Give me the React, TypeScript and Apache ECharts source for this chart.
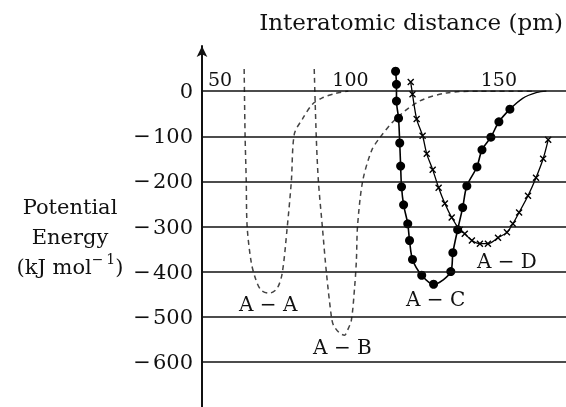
import React, { useEffect, useRef } from "react";
import * as echarts from "echarts";

const xTicks = [50, 100, 150];
const yTicks = [0, -100, -200, -300, -400, -500, -600];

const curveAA: [number, number][] = [
  [64.2, 49], [64.5, -95], [64.9, -199], [65.2, -300], [66.6, -380], [68.2, -419],
  [69.9, -441], [72.6, -448], [75.3, -437], [77.0, -404], [78.7, -302], [80.1, -199],
  [81.1, -95], [83.8, -62], [87.2, -29], [90.5, -15], [95.0, -5], [99.3, 0],
];
const curveAB: [number, number][] = [
  [87.8, 49], [88.5, -104], [89.2, -199], [90.5, -298], [91.9, -402], [93.6, -501],
  [94.3, -519], [96.3, -536], [98.0, -541], [99.0, -530], [100.3, -508], [101.4, -435],
  [102.0, -375], [102.4, -298], [104.1, -200], [107.1, -132], [109.8, -104],
  [115.5, -60], [123.3, -22], [132.4, -4], [143.6, 0], [162.0, 0],
];
const curveAC: [number, number][] = [
  [115.2, 44], [115.5, 15], [115.5, -22], [116.2, -60], [116.6, -115], [116.9, -166],
  [117.2, -212], [117.9, -252], [119.3, -294], [119.9, -331], [120.9, -373],
  [124.0, -408], [128.0, -428], [133.8, -400], [134.5, -358], [136.1, -307],
  [137.8, -258], [139.2, -210], [142.6, -168], [144.3, -130], [147.3, -102],
  [150.0, -68], [153.7, -40],
];
const tailAC: [number, number][] = [[153.7, -40], [158.0, -16], [162.8, -3], [166.0, 0]];
const curveAD: [number, number][] = [
  [120.3, 20], [120.9, -7], [122.3, -62], [124.3, -99], [125.7, -139], [127.7, -174],
  [129.7, -214], [131.8, -249], [134.1, -280], [136.8, -307], [138.5, -316],
  [140.9, -331], [143.6, -338], [146.3, -338], [149.7, -325], [152.7, -313],
  [154.7, -294], [156.8, -269], [159.8, -232], [162.5, -192], [164.9, -150], [166.6, -108],
];
const curveLabels = ["A \u2212 A", "A \u2212 B", "A \u2212 C", "A \u2212 D"];
const labelCoords: [number, number][] = [[72.3, -472], [97.3, -567], [128.7, -461], [152.7, -377]];

const FONT = "DejaVu Serif";
const INK = "#111";

export default function App() {
  const ref = useRef<HTMLDivElement>(null);
  useEffect(() => {
    const chart = echarts.init(ref.current!, undefined, { renderer: "svg" });
    const labelStyle = { fontFamily: FONT, fontSize: 20, color: INK };
    const curveLabel = (idx: number) => ({
      symbol: "circle",
      symbolSize: 1,
      itemStyle: { color: "transparent" },
      label: { show: true, position: "inside", formatter: curveLabels[idx], ...labelStyle },
      data: [{ coord: labelCoords[idx] }],
    });
    const dashed = (name: string, data: [number, number][], idx: number) => ({
      type: "line",
      name,
      data,
      smooth: 0.3,
      symbol: "none",
      lineStyle: { color: "#444", width: 1.5, type: [5, 4] },
      markPoint: curveLabel(idx),
    });
    chart.setOption({
      animation: false,
      grid: { left: 202, right: 0, top: 46, bottom: 0 },
      xAxis: {
        type: "value",
        position: "top",
        offset: -45,
        min: 50,
        max: 172.6,
        interval: 50,
        axisLine: { show: false, onZero: false },
        axisTick: { show: false },
        splitLine: { show: false },
        axisLabel: {
          margin: 3,
          fontFamily: FONT,
          fontSize: 19,
          color: INK,
          showMaxLabel: false,
          formatter: (v: number) =>
            xTicks.includes(v) ? (v === xTicks[0] ? "{first|" + v + "}" : String(v)) : "",
          rich: { first: { fontFamily: FONT, fontSize: 19, color: INK, padding: [0, 0, 0, 36] } },
        },
      },
      yAxis: {
        type: "value",
        min: -700,
        max: 100,
        interval: 100,
        axisLine: { show: true, lineStyle: { color: INK, width: 2 }, symbol: ["none", "arrow"], symbolSize: [8, 11] },
        axisTick: { show: false },
        splitLine: { show: false },
        axisLabel: {
          margin: 9,
          fontFamily: FONT,
          fontSize: 21,
          color: INK,
          formatter: (v: number) =>
            yTicks.includes(v) ? (v === 0 ? "0" : "\u2212\u200a" + Math.abs(v)) : "",
        },
      },
      graphic: [
        {
          type: "text",
          x: 563,
          y: 22,
          style: {
            text: "Interatomic distance (pm)",
            align: "right",
            verticalAlign: "middle",
            fontFamily: FONT,
            fontSize: 23,
            fill: INK,
          },
        },
        {
          type: "text",
          x: 70,
          y: 192,
          style: {
            text: "{n|Potential}\n{n|Energy}\n{n|(kJ mol}{s|\u2212\u20091}{n|)}",
            align: "center",
            rich: {
              n: { fontFamily: FONT, fontSize: 21, lineHeight: 30, fill: INK },
              s: { fontFamily: FONT, fontSize: 14, lineHeight: 16, verticalAlign: "top", fill: INK },
            },
          },
        },
      ],
      series: [
        {
          type: "line",
          data: [],
          symbol: "none",
          markLine: {
            silent: true,
            symbol: "none",
            label: { show: false },
            lineStyle: { color: INK, width: 1.7, type: "solid" },
            data: yTicks.map((v) => ({ yAxis: v })),
          },
        },
        dashed("A-A", curveAA, 0),
        dashed("A-B", curveAB, 1),
        {
          type: "line",
          name: "A-C",
          data: curveAC,
          smooth: 0.3,
          symbol: "circle",
          symbolSize: 9,
          itemStyle: { color: "#000" },
          lineStyle: { color: "#000", width: 1.6 },
          markPoint: curveLabel(2),
        },
        {
          type: "line",
          name: "A-C tail",
          data: tailAC,
          smooth: 0.3,
          symbol: "none",
          lineStyle: { color: "#000", width: 1.3 },
        },
        {
          type: "line",
          name: "A-D",
          data: curveAD,
          smooth: 0.3,
          symbol: "path://M0,0L10,10M10,0L0,10",
          symbolSize: 6,
          itemStyle: { color: "#000", borderColor: "#000", borderWidth: 1.4 },
          lineStyle: { color: "#000", width: 1.3 },
          markPoint: curveLabel(3),
        },
      ],
    });
    return () => chart.dispose();
  }, []);
  return <div ref={ref} style={{ position: "fixed", left: 0, top: 0, width: 566, height: 407 }} />;
}
